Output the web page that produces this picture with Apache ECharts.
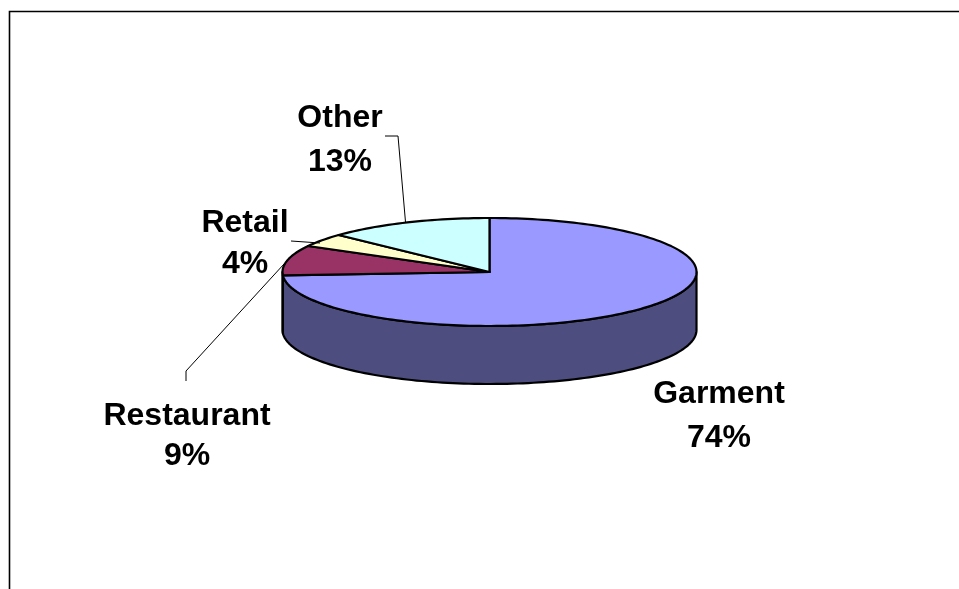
<!DOCTYPE html>
<html>
<head>
<meta charset="utf-8">
<style>html,body{margin:0;padding:0;background:#fff}#c{width:959px;height:589px}</style>
<script src="https://cdn.jsdelivr.net/npm/echarts@6/dist/echarts.min.js"></script>
</head>
<body>
<div id="c"></div>
<script>
const categories = ['Garment', 'Restaurant', 'Retail', 'Other'];
const values = [74, 9, 4, 13];
const topColors = ['#9999FF', '#993366', '#FFFFCC', '#CCFFFF'];
const wallColors = ['#4D4D80', '#4D1A33', '#808066', '#668080'];

const CX = 489.5, CY = 272, RX = 207, RY = 54, DEPTH = 58;
const total = values.reduce((a, b) => a + b, 0);
const labelPos = [[719, 394], [187, 416], [245, 223], [340, 118]];
const labelLineHeights = [44, 40, 41, 44];
const leaders = [
  null,
  [[186, 381], [186, 371], [284, 264]],
  [[291, 241], [320, 243]],
  [[385, 136], [398, 136], [405.5, 222]]
];

function pt(deg, dy) {
  const t = deg * Math.PI / 180;
  return [CX + RX * Math.sin(t), CY - RY * Math.cos(t) + (dy || 0)];
}
function startAngle(i) {
  let s = 0;
  for (let k = 0; k < i; k++) s += values[k];
  return s / total * 360;
}
function arc(a, b, dy) {
  const pts = [], n = Math.max(2, Math.ceil(Math.abs(b - a) / 1.5));
  for (let k = 0; k <= n; k++) pts.push(pt(a + (b - a) * k / n, dy));
  return pts;
}

function renderWall(params, api) {
  const i = params.dataIndex;
  const a = startAngle(i), b = a + api.value(1) / total * 360;
  const lo = Math.max(a, 90), hi = Math.min(b, 270);
  if (hi <= lo) return { type: 'group', children: [] };
  return {
    type: 'polygon',
    shape: { points: arc(lo, hi, 0).concat(arc(hi, lo, DEPTH)) },
    style: { fill: wallColors[i], stroke: '#000', lineWidth: 2.2, lineJoin: 'round' }
  };
}
function renderTop(params, api) {
  const i = params.dataIndex;
  const a = startAngle(i), b = a + api.value(1) / total * 360;
  return {
    type: 'polygon',
    shape: { points: [[CX, CY]].concat(arc(a, b, 0)) },
    style: { fill: topColors[i], stroke: '#000', lineWidth: 2.2, lineJoin: 'round' }
  };
}
function renderLabel(params, api) {
  const i = params.dataIndex;
  const lh = labelLineHeights[i];
  const children = [{
    type: 'text',
    style: {
      x: labelPos[i][0], y: labelPos[i][1],
      text: categories[i] + '\n' + api.value(1) + '%',
      font: 'bold 32px "Liberation Sans", Arial, sans-serif',
      lineHeight: lh, fill: '#000', align: 'center', verticalAlign: 'top'
    },
    y: -lh / 2
  }];
  if (leaders[i]) children.push({
    type: 'polyline',
    shape: { points: leaders[i] },
    style: { fill: 'none', stroke: '#000', lineWidth: 1 }
  });
  return { type: 'group', children };
}

const rows = categories.map((c, i) => [c, values[i]]);
const chart = echarts.init(document.getElementById('c'), null, { renderer: 'canvas' });
chart.setOption({
  animation: false,
  backgroundColor: '#fff',
  graphic: [{
    type: 'polyline',
    shape: { points: [[9.5, 589], [9.5, 11.5], [959, 11.5]] },
    style: { fill: 'none', stroke: '#000', lineWidth: 1.6 }
  }],
  series: [
    { type: 'custom', coordinateSystem: 'none', data: rows, renderItem: renderWall, z: 1, silent: true },
    { type: 'custom', coordinateSystem: 'none', data: rows, renderItem: renderTop, z: 2, silent: true },
    { type: 'custom', coordinateSystem: 'none', data: rows, renderItem: renderLabel, z: 3, silent: true }
  ]
});
</script>
</body>
</html>
